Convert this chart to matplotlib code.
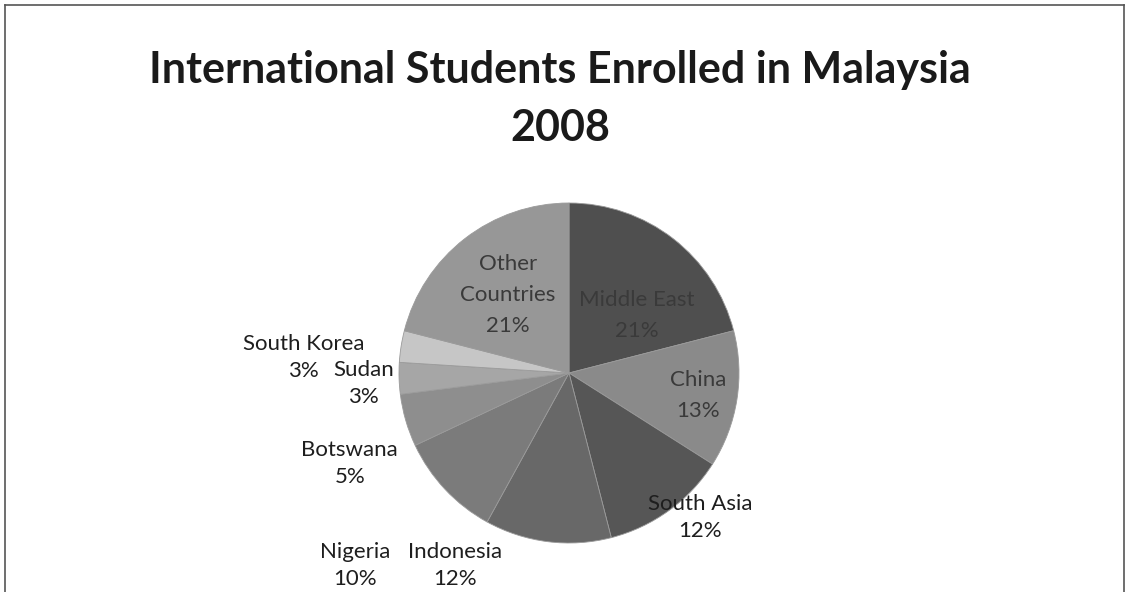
import matplotlib.pyplot as plt
from matplotlib.lines import Line2D

plt.rcParams['font.family'] = ['Lato', 'DejaVu Sans']

# data
regions = ['Middle East', 'China', 'South Asia', 'Indonesia', 'Nigeria',
           'Botswana', 'Sudan', 'South Korea', 'Other Countries']
shares = [21, 13, 12, 12, 10, 5, 3, 3, 21]
colours = ['#4f4f4f', '#8a8a8a', '#565656', '#686868', '#7b7b7b',
           '#8e8e8e', '#a6a6a6', '#c6c6c6', '#979797']

# label positions (in pie radii) and text colour
label_pos = [(0.40, 0.34), (0.76, -0.13), (0.77, -0.85), (-0.67, -1.13), (-1.26, -1.13),
             (-1.29, -0.53), (-1.21, -0.06), (-1.56, 0.09), (-0.36, 0.46)]
inside = [True, True, False, False, False, False, False, False, True]

W, H = 1129, 592
fig = plt.figure(figsize=(W / 100, H / 100), dpi=100)
fig.patch.set_facecolor('white')

# chart frame
for xs, ys in [([5 / W, 5 / W], [0, 1 - 5 / H]),
               ([5 / W, 1124 / W], [1 - 5 / H, 1 - 5 / H]),
               ([1124 / W, 1124 / W], [0, 1 - 5 / H])]:
    fig.add_artist(Line2D(xs, ys, color='#555555', lw=1.2))

fig.text(560 / W, 1 - 70 / H, 'International Students Enrolled in Malaysia',
         ha='center', va='center', fontsize=31, fontweight='bold', color='#1a1a1a')
fig.text(560 / W, 1 - 128 / H, '2008', ha='center', va='center',
         fontsize=31, fontweight='bold', color='#1a1a1a')

cx, cy, R = 569, 373, 170
ax = fig.add_axes([(cx - R) / W, (H - cy - R) / H, 2 * R / W, 2 * R / H])
ax.pie(shares, colors=colours, startangle=90, counterclock=False, radius=1.0,
       wedgeprops=dict(linewidth=0.6, edgecolor='#9a9a9a'))
ax.set_xlim(-1, 1)
ax.set_ylim(-1, 1)
ax.set_aspect('equal')
ax.axis('off')

# each label line drawn on its own so the label boxes stay tight
for name, share, (x, y), ins in zip(regions, shares, label_pos, inside):
    lines = ['Other', 'Countries'] if name == 'Other Countries' else [name]
    lines = lines + ['%d%%' % share]
    step = (31 if ins else 27) / R
    top = y + step * (len(lines) - 1) / 2
    for i, ln in enumerate(lines):
        ax.text(x, top - i * step, ln, ha='center', va='center', fontsize=16,
                color='#3a3a3a' if ins else '#1e1e1e', clip_on=False)

fig.savefig('out.png', dpi=100)
